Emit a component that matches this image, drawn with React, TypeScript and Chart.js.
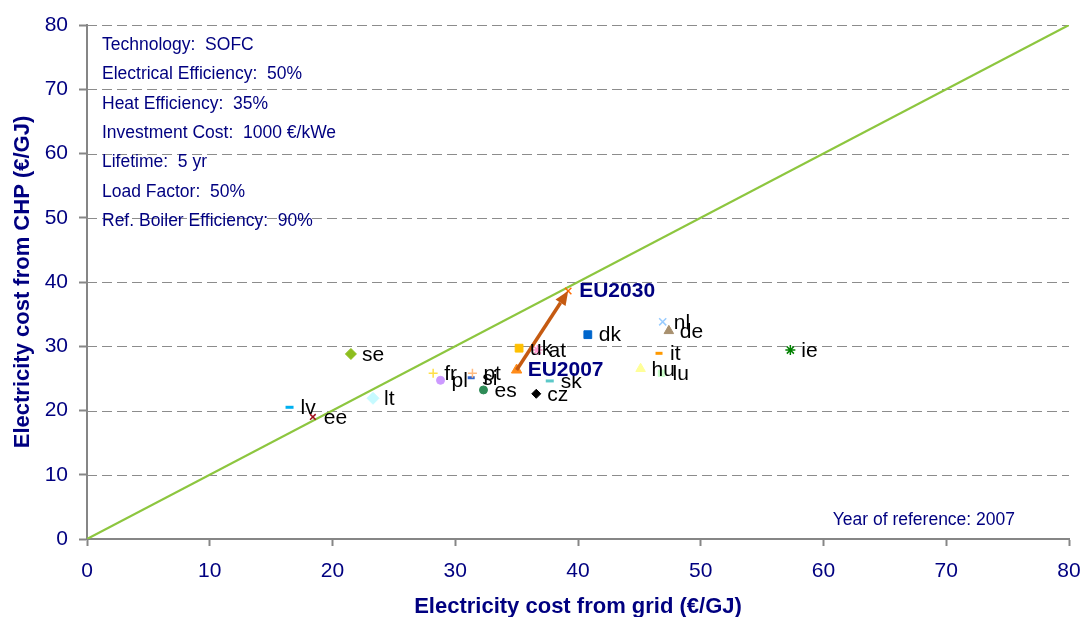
import React, { useEffect, useRef } from 'react';
import { Chart, registerables } from 'chart.js';

Chart.register(...registerables);

// ---- Data ----
const countries = ['se', 'lv', 'ee', 'lt', 'fr', 'pl', 'pt', 'si', 'es', 'uk', 'at', 'sk', 'cz', 'dk', 'nl', 'de', 'it', 'hu', 'lu', 'ie'];
const gridCost = [21.5, 16.5, 18.4, 23.3, 28.2, 28.8, 31.4, 31.3, 32.3, 35.2, 36.7, 37.7, 36.6, 40.8, 46.9, 47.4, 46.6, 45.1, 46.8, 57.3];
const chpCost = [28.8, 20.5, 19.0, 21.9, 25.8, 24.7, 25.8, 25.1, 23.2, 29.7, 29.4, 24.6, 22.6, 31.8, 33.8, 32.4, 28.9, 26.5, 25.8, 29.4];

const euLabels = ['EU2007', 'EU2030'];
const euGridCost = [35.0, 39.2];
const euChpCost = [26.3, 38.6];

const parityX = [0, 80];
const parityY = [0, 80];

const axisMin = 0;
const axisMax = 80;
const axisStep = 10;

const infoLines = [
  'Technology:  SOFC',
  'Electrical Efficiency:  50%',
  'Heat Efficiency:  35%',
  'Investment Cost:  1000 €/kWe',
  'Lifetime:  5 yr',
  'Load Factor:  50%',
  'Ref. Boiler Efficiency:  90%',
];
const referenceNote = 'Year of reference: 2007';
const xTitle = 'Electricity cost from grid (€/GJ)';
const yTitle = 'Electricity cost from CHP (€/GJ)';

// ---- Styles ----
const NAVY = '#000080';
const FONT = "'Liberation Sans', Arial, sans-serif";
const AXIS_GRAY = '#868686';

const markerStyles: Record<string, { style: any; color: string; radius: number; width?: number }> = {
  se: { style: 'rectRot', color: '#8DBE1E', radius: 5.5 },
  lv: { style: 'line', color: '#00B0F0', radius: 4, width: 3 },
  ee: { style: 'crossRot', color: '#A0101E', radius: 4, width: 1.5 },
  lt: { style: 'rectRot', color: '#C6FAFF', radius: 6 },
  fr: { style: 'cross', color: '#FFE048', radius: 4.5, width: 1.5 },
  pl: { style: 'circle', color: '#CC99FF', radius: 4 },
  pt: { style: 'cross', color: '#FFBB80', radius: 4.5, width: 1.5 },
  si: { style: 'line', color: '#3366CC', radius: 3.5, width: 3 },
  es: { style: 'circle', color: '#2E8B57', radius: 4 },
  uk: { style: 'rect', color: '#FFC000', radius: 5.5 },
  at: { style: 'star', color: '#FF99CC', radius: 5, width: 1.5 },
  sk: { style: 'line', color: '#5CC8C8', radius: 4, width: 3 },
  cz: { style: 'rectRot', color: '#000000', radius: 4.5 },
  dk: { style: 'rect', color: '#0066CC', radius: 5.5 },
  nl: { style: 'crossRot', color: '#99CCFF', radius: 5, width: 1.5 },
  de: { style: 'triangle', color: '#A8906E', radius: 5.5 },
  it: { style: 'line', color: '#FF9900', radius: 3.5, width: 3 },
  hu: { style: 'triangle', color: '#FFFF99', radius: 5.5 },
  lu: { style: 'rect', color: '#CCFFCC', radius: 4.5 },
  ie: { style: 'star', color: '#008000', radius: 5, width: 1.5 },
};
const euStyles = [
  { style: 'triangle', color: '#FF8C1A', radius: 6, width: 1 },
  { style: 'crossRot', color: '#FF6A00', radius: 4.5, width: 1.5 },
];

const overlayPlugin = {
  id: 'overlay',
  beforeDatasetsDraw(chart: any) {
    const { ctx, chartArea, scales } = chart;
    ctx.save();
    ctx.strokeStyle = '#8C8C8C';
    ctx.lineWidth = 1;
    ctx.setLineDash([10, 5]);
    for (let v = axisMin + axisStep; v <= axisMax; v += axisStep) {
      const y = Math.round(scales.y.getPixelForValue(v)) + 0.5;
      ctx.beginPath();
      ctx.moveTo(chartArea.left, y);
      ctx.lineTo(chartArea.right, y);
      ctx.stroke();
    }
    ctx.restore();
  },
  afterDatasetsDraw(chart: any) {
    const { ctx, chartArea, scales } = chart;
    const xs = scales.x;
    const ys = scales.y;
    ctx.save();

    // Arrow EU2007 -> EU2030
    const x1 = xs.getPixelForValue(euGridCost[0]);
    const y1 = ys.getPixelForValue(euChpCost[0]);
    const x2 = xs.getPixelForValue(euGridCost[1]);
    const y2 = ys.getPixelForValue(euChpCost[1]);
    const ang = Math.atan2(y2 - y1, x2 - x1);
    const headLen = 14;
    const headW = 6;
    const bx = x2 - Math.cos(ang) * headLen;
    const by = y2 - Math.sin(ang) * headLen;
    ctx.strokeStyle = '#C55A11';
    ctx.fillStyle = '#C55A11';
    ctx.lineWidth = 3.5;
    ctx.beginPath();
    ctx.moveTo(x1, y1);
    ctx.lineTo(bx, by);
    ctx.stroke();
    ctx.beginPath();
    ctx.moveTo(x2, y2);
    ctx.lineTo(bx + Math.sin(ang) * headW, by - Math.cos(ang) * headW);
    ctx.lineTo(bx - Math.sin(ang) * headW, by + Math.cos(ang) * headW);
    ctx.closePath();
    ctx.fill();

    // Country labels
    ctx.fillStyle = '#000000';
    ctx.font = `21px ${FONT}`;
    ctx.textBaseline = 'middle';
    ctx.textAlign = 'left';
    countries.forEach((c, i) => {
      const px = xs.getPixelForValue(gridCost[i]);
      const py = ys.getPixelForValue(chpCost[i]);
      ctx.fillText(c, px + 11, py + 1);
    });

    // EU labels
    ctx.fillStyle = NAVY;
    ctx.font = `bold 21px ${FONT}`;
    euLabels.forEach((l, i) => {
      const px = xs.getPixelForValue(euGridCost[i]);
      const py = ys.getPixelForValue(euChpCost[i]);
      ctx.fillText(l, px + 11, py);
    });

    // Info box
    ctx.font = `17.5px ${FONT}`;
    ctx.fillStyle = NAVY;
    infoLines.forEach((t, i) => {
      ctx.fillText(t, chartArea.left + 15, chartArea.top + 20 + i * 29.4);
    });

    // Reference note
    ctx.textAlign = 'right';
    ctx.fillText(referenceNote, chartArea.right - 54, chartArea.bottom - 19);

    ctx.restore();
  },
};

export default function App() {
  const canvasRef = useRef<HTMLCanvasElement | null>(null);

  useEffect(() => {
    if (!canvasRef.current) return;

    const countryDatasets = countries.map((c, i) => {
      const s = markerStyles[c];
      return {
        label: c,
        data: [{ x: gridCost[i], y: chpCost[i] }],
        pointStyle: s.style,
        pointRadius: s.radius,
        pointBackgroundColor: s.color,
        pointBorderColor: s.color,
        pointBorderWidth: s.width ?? 1,
        showLine: false,
        order: 1,
      };
    });
    const euDatasets = euLabels.map((l, i) => ({
      label: l,
      data: [{ x: euGridCost[i], y: euChpCost[i] }],
      pointStyle: euStyles[i].style,
      pointRadius: euStyles[i].radius,
      pointBackgroundColor: euStyles[i].color,
      pointBorderColor: euStyles[i].color,
      pointBorderWidth: euStyles[i].width,
      showLine: false,
      order: 0,
    }));
    const parity = {
      label: 'parity',
      data: parityX.map((x, i) => ({ x, y: parityY[i] })),
      showLine: true,
      borderColor: '#8DC63F',
      borderWidth: 2.2,
      pointRadius: 0,
      order: 10,
    };

    const chart = new Chart(canvasRef.current, {
      type: 'scatter',
      data: { datasets: [...euDatasets, ...countryDatasets, parity] as any },
      options: {
        animation: false,
        responsive: true,
        maintainAspectRatio: false,
        events: [],
        layout: { padding: { top: 25, right: 14, left: 0, bottom: 0 } },
        plugins: { legend: { display: false }, tooltip: { enabled: false } },
        scales: {
          x: {
            type: 'linear',
            min: axisMin,
            max: axisMax,
            afterFit: (s: any) => {
              s.height = 78;
              s.paddingRight = 0;
              s.paddingLeft = 0;
            },
            ticks: {
              stepSize: axisStep,
              color: NAVY,
              font: { family: FONT, size: 21 },
              padding: 13,
              maxRotation: 0,
              autoSkip: false,
            },
            grid: {
              drawOnChartArea: false,
              drawTicks: true,
              tickLength: 7,
              tickColor: AXIS_GRAY,
              tickWidth: 2,
            },
            border: { display: true, color: AXIS_GRAY, width: 2 },
            title: {
              display: true,
              text: xTitle,
              color: NAVY,
              font: { family: FONT, size: 22, weight: 'bold' },
              padding: { top: 0, bottom: -3 },
            },
          },
          y: {
            type: 'linear',
            min: axisMin,
            max: axisMax,
            afterFit: (s: any) => {
              s.width = 87;
              s.paddingTop = 0;
              s.paddingBottom = 0;
            },
            ticks: {
              stepSize: axisStep,
              color: NAVY,
              font: { family: FONT, size: 21 },
              padding: 11,
            },
            grid: {
              drawOnChartArea: false,
              drawTicks: true,
              tickLength: 8,
              tickColor: AXIS_GRAY,
              tickWidth: 2,
            },
            border: { display: true, color: AXIS_GRAY, width: 2 },
            title: {
              display: true,
              text: yTitle,
              color: NAVY,
              font: { family: FONT, size: 22, weight: 'bold' },
              padding: { top: 10, bottom: 0 },
            },
          },
        },
      } as any,
      plugins: [overlayPlugin],
    });

    return () => chart.destroy();
  }, []);

  return (
    <div style={{ position: 'fixed', left: 0, top: 0, width: 1083, height: 617, background: '#ffffff' }}>
      <canvas ref={canvasRef} />
    </div>
  );
}
